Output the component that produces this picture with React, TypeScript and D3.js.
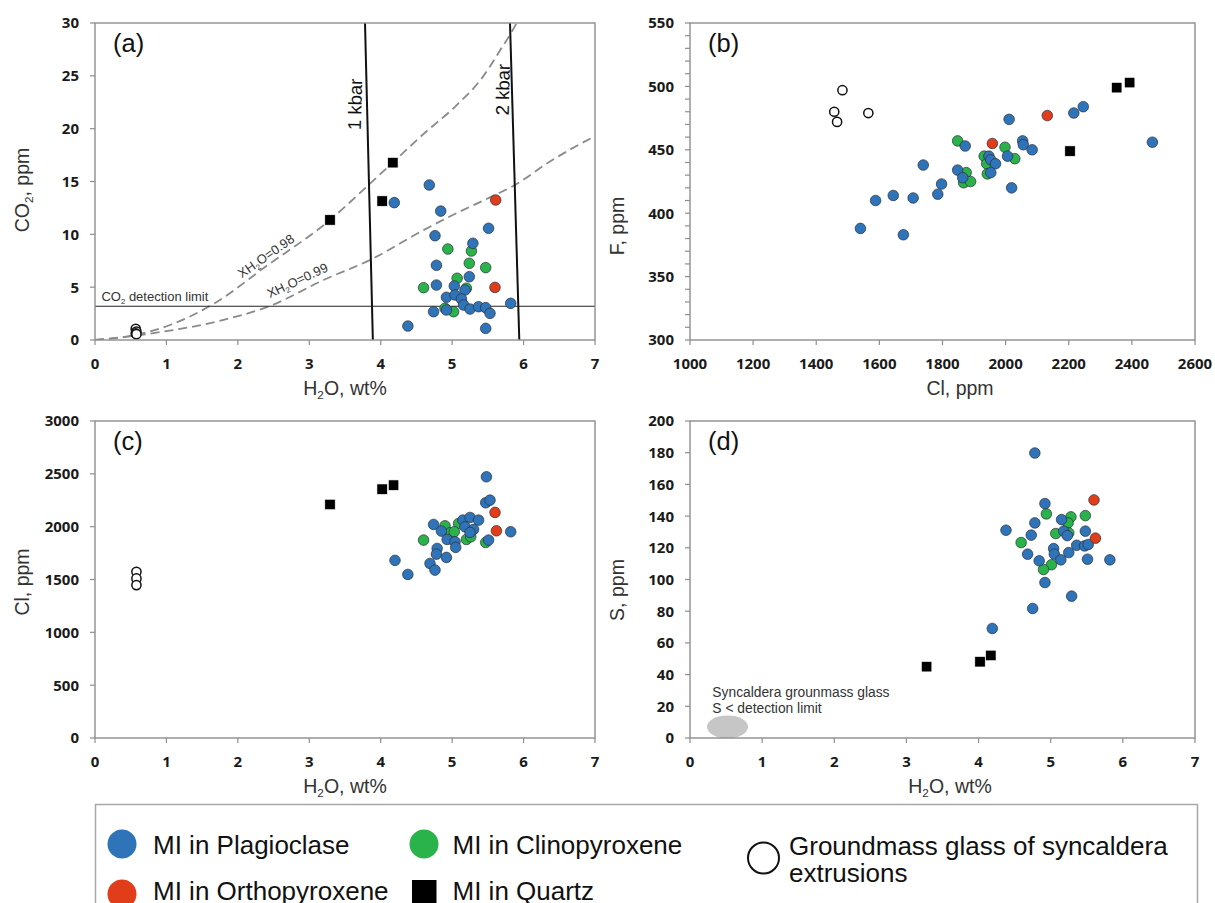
import React from "react";
import * as d3 from "d3";

type Pt = [number, number];

// ---------- (a) H2O (wt%) vs CO2 (ppm) ----------
const co2Plag: Pt[] = [
  [4.68, 14.67], [4.19, 13.0], [4.84, 12.2], [5.51, 10.57], [4.76, 9.87], [5.29, 9.15],
  [4.78, 7.07], [5.24, 5.99], [4.78, 5.2], [5.03, 5.11], [5.18, 4.73], [4.92, 4.04],
  [5.04, 4.26], [5.13, 3.88], [5.16, 3.31], [5.25, 2.93], [5.37, 3.15], [5.47, 3.06],
  [5.53, 2.52], [5.82, 3.47], [4.74, 2.68], [4.92, 2.84], [4.38, 1.32], [5.47, 1.1],
];
const co2Cpx: Pt[] = [
  [4.94, 8.61], [5.27, 8.42], [5.24, 7.26], [5.47, 6.85], [5.07, 5.84], [4.6, 4.95],
  [5.2, 4.9], [5.02, 2.68], [4.9, 3.0],
];
const co2Opx: Pt[] = [[5.61, 13.25], [5.6, 4.98]];
const co2Qtz: Pt[] = [[3.29, 11.36], [4.02, 13.15], [4.17, 16.78]];
const co2Glass: Pt[] = [[0.57, 1.05], [0.58, 0.8], [0.57, 0.62], [0.58, 0.55]];

// H2O–CO2 fluid isopleths and isobars
const isoXH2O098: Pt[] = [
  [0, 0], [0.5, 0.4], [1.05, 1.42], [1.68, 3.5], [2.4, 7.0], [3.29, 11.36], [3.85, 14.8],
  [4.17, 16.8], [4.6, 19.5], [5.06, 22.2], [5.43, 24.9], [5.67, 27.4], [5.82, 29.0], [5.92, 30.2],
];
const isoXH2O099: Pt[] = [
  [0, 0], [0.86, 0.69], [1.8, 1.9], [2.45, 3.22], [3.2, 5.68], [3.85, 7.57], [4.6, 10.4],
  [5.06, 12.0], [5.61, 13.75], [5.88, 14.67], [6.37, 16.9], [7.0, 19.3],
];
const isobar1kbar: Pt[] = [[3.89, 0], [3.78, 30]];
const isobar2kbar: Pt[] = [[5.94, 0], [5.81, 30]];
const co2DetectionLimit = 3.2;

// ---------- (b) Cl (ppm) vs F (ppm) ----------
const fPlag: Pt[] = [
  [1540, 388], [1676, 383], [1588, 410], [1644, 414], [1707, 412], [1739, 438], [1785, 415],
  [1797, 423], [1848, 434], [1864, 428], [1872, 453], [1947, 445], [1953, 442], [1968, 439],
  [1953, 432], [2011, 474], [2006, 445], [2019, 420], [2054, 457], [2056, 454], [2084, 450],
  [2216, 479], [2246, 484], [2465, 456],
];
const fCpx: Pt[] = [
  [1848, 457], [1875, 432], [1867, 424], [1889, 425], [1932, 445], [1940, 439], [1942, 431],
  [1998, 452], [2029, 443],
];
const fOpx: Pt[] = [[1958, 455], [2132, 477]];
const fQtz: Pt[] = [[2204, 449], [2352, 499], [2393, 503]];
const fGlass: Pt[] = [[1483, 497], [1457, 480], [1466, 472], [1565, 479]];

// ---------- (c) H2O (wt%) vs Cl (ppm) ----------
const clPlag: Pt[] = [
  [5.48, 2472], [5.47, 2226], [5.53, 2251], [4.74, 2021], [5.15, 2062], [5.25, 2087],
  [5.37, 2062], [5.18, 1999], [5.3, 1974], [5.25, 1945], [4.85, 1958], [4.93, 1879],
  [5.04, 1857], [5.05, 1804], [4.79, 1794], [4.78, 1740], [4.92, 1709], [4.69, 1652],
  [4.76, 1589], [4.2, 1681], [4.38, 1548], [5.51, 1873], [5.82, 1952],
];
const clCpx: Pt[] = [
  [4.6, 1873], [4.9, 2008], [5.09, 2030], [4.97, 1942], [5.03, 1952], [5.2, 1879],
  [5.26, 1904], [5.47, 1851],
];
const clOpx: Pt[] = [[5.6, 2135], [5.62, 1961]];
const clQtz: Pt[] = [[3.29, 2210], [4.02, 2355], [4.18, 2393]];
const clGlass: Pt[] = [[0.58, 1573], [0.58, 1510], [0.58, 1447]];

// ---------- (d) H2O (wt%) vs S (ppm) ----------
const sPlag: Pt[] = [
  [4.78, 179.8], [4.92, 147.9], [4.78, 135.7], [5.15, 137.8], [4.38, 131.1], [4.73, 128],
  [5.18, 130.5], [5.23, 127.7], [5.48, 130.5], [5.04, 119.5], [5.36, 121.6], [5.47, 121.2],
  [5.52, 122.1], [4.68, 116], [5.05, 116], [5.25, 117], [4.84, 111.8], [5.14, 112.4],
  [5.51, 112.8], [5.82, 112.4], [4.92, 98.1], [5.29, 89.5], [4.75, 81.7], [4.19, 69.1],
];
const sCpx: Pt[] = [
  [4.94, 141.4], [5.28, 139.5], [5.24, 135.7], [5.48, 140.3], [5.07, 129], [5.25, 129.4],
  [4.59, 123.3], [5.01, 109.3], [4.9, 106.3],
];
const sOpx: Pt[] = [[5.6, 150.2], [5.62, 126.1]];
const sQtz: Pt[] = [[3.28, 45], [4.02, 48.1], [4.17, 52.1]];
const sGlassBelowLimit: Pt = [0.52, 7];

// ---------- axis ticks ----------
const h2oTicks = [0, 1, 2, 3, 4, 5, 6, 7];
const co2Ticks = [0, 5, 10, 15, 20, 25, 30];
const clTicksB = [1000, 1200, 1400, 1600, 1800, 2000, 2200, 2400, 2600];
const fTicks = [300, 350, 400, 450, 500, 550];
const fMinorTicks = d3.range(300, 551, 10);
const clTicksC = [0, 500, 1000, 1500, 2000, 2500, 3000];
const sTicks = [0, 20, 40, 60, 80, 100, 120, 140, 160, 180, 200];

const COLORS = {
  plag: "#2F74B8",
  cpx: "#2AB24B",
  opx: "#E23D1B",
  qtz: "#000000",
};
const FRAME = "#8e8e8e";
const TICK_FONT = "'Open Sans', 'DejaVu Sans', sans-serif";
const LABEL_FONT = "'Liberation Sans', Arial, sans-serif";

type Series = { data: Pt[]; kind: "plag" | "cpx" | "opx" | "qtz" | "glass" };

type PanelProps = {
  id: string;
  letter: string;
  box: { left: number; right: number; top: number; bottom: number };
  xDomain: [number, number];
  yDomain: [number, number];
  xTicks: number[];
  yTicks: number[];
  yMinor?: number[];
  xTitle: React.ReactNode;
  yTitle: React.ReactNode;
  xTitleX?: number;
  yTitleY?: number;
  yTitleX: number;
  series: Series[];
  extra?: (x: d3.ScaleLinear<number, number>, y: d3.ScaleLinear<number, number>) => React.ReactNode;
};

function Marker({ kind, cx, cy }: { kind: Series["kind"]; cx: number; cy: number }) {
  if (kind === "qtz") {
    return <rect x={cx - 5.2} y={cy - 5.2} width={10.4} height={10.4} fill="#000" stroke="#fff" strokeWidth={0.6} />;
  }
  if (kind === "glass") {
    return <circle cx={cx} cy={cy} r={4.6} fill="#fff" stroke="#111" strokeWidth={1.5} />;
  }
  return <circle cx={cx} cy={cy} r={5.3} fill={COLORS[kind]} stroke="#2a2f38" strokeWidth={0.7} />;
}

function Panel(p: PanelProps) {
  const { left, right, top, bottom } = p.box;
  const x = d3.scaleLinear().domain(p.xDomain).range([left, right]);
  const y = d3.scaleLinear().domain(p.yDomain).range([bottom, top]);
  const clipId = `clip-${p.id}`;
  const tickText = {
    fontFamily: TICK_FONT,
    fontWeight: 700,
    fontSize: 15,
    fill: "#1a1a1a",
  };
  return (
    <g>
      <defs>
        <clipPath id={clipId}>
          <rect x={left} y={top} width={right - left} height={bottom - top} />
        </clipPath>
      </defs>
      {/* y ticks */}
      {(p.yMinor ?? p.yTicks).map((t) => (
        <line key={`ym${t}`} x1={left - 5} x2={left} y1={y(t)} y2={y(t)} stroke={FRAME} strokeWidth={1.2} />
      ))}
      {p.yTicks.map((t) => (
        <text key={`yl${t}`} x={left - 16} y={y(t)} dy="0.36em" textAnchor="end" {...tickText}>
          {t}
        </text>
      ))}
      {/* x ticks */}
      {p.xTicks.map((t) => (
        <g key={`x${t}`}>
          <line x1={x(t)} x2={x(t)} y1={bottom} y2={bottom + 5} stroke={FRAME} strokeWidth={1.2} />
          <text x={x(t)} y={bottom + 29} textAnchor="middle" {...tickText}>
            {t}
          </text>
        </g>
      ))}
      <g clipPath={`url(#${clipId})`}>{p.extra ? p.extra(x, y) : null}</g>
      {p.series.map((s, si) => (
        <g key={si}>
          {s.data.map((d, i) => (
            <Marker key={i} kind={s.kind} cx={x(d[0])} cy={y(d[1])} />
          ))}
        </g>
      ))}
      <rect x={left} y={top} width={right - left} height={bottom - top} fill="none" stroke={FRAME} strokeWidth={1.4} />
      <text x={left + 18} y={top + 29} fontFamily={LABEL_FONT} fontSize={25.5} fill="#111">
        {p.letter}
      </text>
      <text
        x={p.xTitleX ?? (left + right) / 2}
        y={bottom + 55}
        textAnchor="middle"
        fontFamily={LABEL_FONT}
        fontSize={19.5}
        fill="#333"
      >
        {p.xTitle}
      </text>
      <text
        transform={`translate(${p.yTitleX},${p.yTitleY ?? (top + bottom) / 2}) rotate(-90)`}
        textAnchor="middle"
        dy="0.35em"
        fontFamily={LABEL_FONT}
        fontSize={19.5}
        fill="#333"
      >
        {p.yTitle}
      </text>
    </g>
  );
}

function sub(base: string, s: string, rest: string, size: number) {
  return (
    <>
      {base}
      <tspan fontSize={size * 0.6} dy={size * 0.22}>{s}</tspan>
      <tspan dy={-size * 0.22}>{rest}</tspan>
    </>
  );
}

const h2oTitle = sub("H", "2", "O, wt%", 19.5);

function seriesOf(plag: Pt[], cpx: Pt[], opx: Pt[], qtz: Pt[], glass: Pt[]): Series[] {
  return [
    { data: cpx, kind: "cpx" },
    { data: plag, kind: "plag" },
    { data: opx, kind: "opx" },
    { data: qtz, kind: "qtz" },
    { data: glass, kind: "glass" },
  ];
}

export default function App() {
  const curve = (pts: Pt[], x: d3.ScaleLinear<number, number>, y: d3.ScaleLinear<number, number>) =>
    d3
      .line<Pt>()
      .x((d) => x(d[0]))
      .y((d) => y(d[1]))
      .curve(d3.curveMonotoneX)(pts) ?? "";
  const straight = (pts: Pt[], x: d3.ScaleLinear<number, number>, y: d3.ScaleLinear<number, number>) =>
    d3
      .line<Pt>()
      .x((d) => x(d[0]))
      .y((d) => y(d[1]))(pts) ?? "";

  const extraA = (x: d3.ScaleLinear<number, number>, y: d3.ScaleLinear<number, number>) => {
    const p98: Pt = [2.43, 7.6];
    const p99: Pt = [2.86, 5.25];
    return (
      <g>
        <path d={curve(isoXH2O098, x, y)} fill="none" stroke="#8a8a8a" strokeWidth={1.8} strokeDasharray="9 5" />
        <path d={curve(isoXH2O099, x, y)} fill="none" stroke="#8a8a8a" strokeWidth={1.8} strokeDasharray="9 5" />
        <path d={straight(isobar1kbar, x, y)} fill="none" stroke="#111" strokeWidth={2} />
        <path d={straight(isobar2kbar, x, y)} fill="none" stroke="#111" strokeWidth={2} />
        <line
          x1={x(0)}
          x2={x(7)}
          y1={y(co2DetectionLimit)}
          y2={y(co2DetectionLimit)}
          stroke="#222"
          strokeWidth={1.1}
        />
        <text x={x(0.09)} y={y(co2DetectionLimit) - 5} fontFamily={LABEL_FONT} fontSize={13} fill="#333">
          {sub("CO", "2", " detection limit", 13)}
        </text>
        <text
          transform={`translate(${x(p98[0])},${y(p98[1])}) rotate(-35)`}
          textAnchor="middle"
          fontFamily={LABEL_FONT}
          fontSize={13}
          fill="#333"
        >
          {sub("XH", "2", "O=0.98", 13)}
        </text>
        <text
          transform={`translate(${x(p99[0])},${y(p99[1])}) rotate(-25)`}
          textAnchor="middle"
          fontFamily={LABEL_FONT}
          fontSize={13}
          fill="#333"
        >
          {sub("XH", "2", "O=0.99", 13)}
        </text>
        <text
          transform={`translate(${x(3.64)},${y(22.3)}) rotate(-88.6)`}
          textAnchor="middle"
          dy="0.35em"
          fontFamily={LABEL_FONT}
          fontSize={18.5}
          fill="#111"
        >
          1 kbar
        </text>
        <text
          transform={`translate(${x(5.71)},${y(23.7)}) rotate(-88.6)`}
          textAnchor="middle"
          dy="0.35em"
          fontFamily={LABEL_FONT}
          fontSize={18.5}
          fill="#111"
        >
          2 kbar
        </text>
      </g>
    );
  };

  const extraD = (x: d3.ScaleLinear<number, number>, y: d3.ScaleLinear<number, number>) => (
    <g>
      <ellipse cx={x(sGlassBelowLimit[0])} cy={y(sGlassBelowLimit[1])} rx={20.5} ry={11.5} fill="#c6c6c6" />
      <text x={x(0.31)} y={y(25.6)} fontFamily={LABEL_FONT} fontSize={13.8} fill="#333">
        Syncaldera grounmass glass
      </text>
      <text x={x(0.31)} y={y(15.6)} fontFamily={LABEL_FONT} fontSize={13.8} fill="#333">
        S &lt; detection limit
      </text>
    </g>
  );

  const legendFont = { fontFamily: LABEL_FONT, fontSize: 26, fill: "#111" };

  return (
    <svg
      width={1215}
      height={903}
      viewBox="0 0 1215 903"
      style={{ position: "absolute", left: 0, top: 0, background: "#fff" }}
    >
      <rect width={1215} height={903} fill="#fff" />
      <Panel
        id="a"
        letter="(a)"
        box={{ left: 95, right: 595, top: 23, bottom: 340 }}
        xDomain={[0, 7]}
        yDomain={[0, 30]}
        xTicks={h2oTicks}
        yTicks={co2Ticks}
        xTitle={h2oTitle}
        yTitle={sub("CO", "2", ", ppm", 19.5)}
        yTitleX={22}
        yTitleY={190}
        series={seriesOf(co2Plag, co2Cpx, co2Opx, co2Qtz, co2Glass)}
        extra={extraA}
      />
      <Panel
        id="b"
        letter="(b)"
        box={{ left: 690, right: 1195, top: 23, bottom: 340 }}
        xDomain={[1000, 2600]}
        yDomain={[300, 550]}
        xTicks={clTicksB}
        yTicks={fTicks}
        yMinor={fMinorTicks}
        xTitle="Cl, ppm"
        xTitleX={960}
        yTitle="F, ppm"
        yTitleX={617}
        yTitleY={226}
        series={seriesOf(fPlag, fCpx, fOpx, fQtz, fGlass)}
      />
      <Panel
        id="c"
        letter="(c)"
        box={{ left: 95, right: 595, top: 421, bottom: 738 }}
        xDomain={[0, 7]}
        yDomain={[0, 3000]}
        xTicks={h2oTicks}
        yTicks={clTicksC}
        xTitle={h2oTitle}
        yTitle="Cl, ppm"
        yTitleX={22}
        yTitleY={582}
        series={seriesOf(clPlag, clCpx, clOpx, clQtz, clGlass)}
      />
      <Panel
        id="d"
        letter="(d)"
        box={{ left: 690, right: 1195, top: 421, bottom: 738 }}
        xDomain={[0, 7]}
        yDomain={[0, 200]}
        xTicks={h2oTicks}
        yTicks={sTicks}
        xTitle={h2oTitle}
        xTitleX={950}
        yTitle="S, ppm"
        yTitleX={617}
        yTitleY={590}
        series={seriesOf(sPlag, sCpx, sOpx, sQtz, [])}
        extra={extraD}
      />

      {/* legend */}
      <rect x={95.5} y={804.5} width={1102} height={120} fill="#fff" stroke="#a8a8a8" strokeWidth={1.5} />
      <circle cx={122} cy={844} r={14.5} fill={COLORS.plag} />
      <text x={153} y={854} {...legendFont}>MI in Plagioclase</text>
      <circle cx={424} cy={844} r={14.5} fill={COLORS.cpx} />
      <text x={452.5} y={854} {...legendFont}>MI in Clinopyroxene</text>
      <circle cx={122} cy={894} r={14.5} fill={COLORS.opx} />
      <text x={153} y={900} {...legendFont}>MI in Orthopyroxene</text>
      <rect x={412} y={880} width={24.5} height={25.5} fill="#000" />
      <text x={452.5} y={900} {...legendFont}>MI in Quartz</text>
      <circle cx={763.5} cy={858} r={15.5} fill="#fff" stroke="#111" strokeWidth={2} />
      <text x={789} y={854.5} {...legendFont}>Groundmass glass of syncaldera</text>
      <text x={789} y={881.5} {...legendFont}>extrusions</text>
    </svg>
  );
}
